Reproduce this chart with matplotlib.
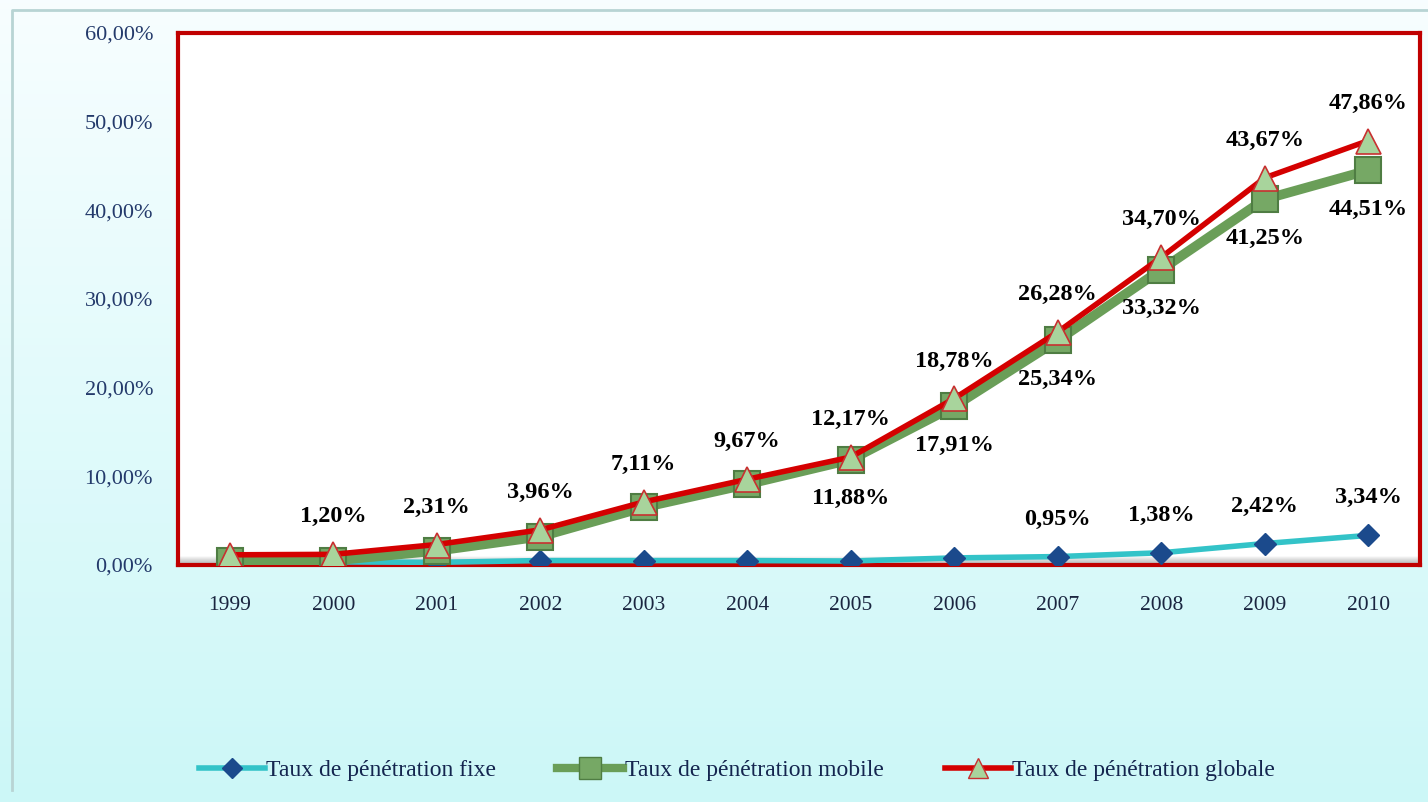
import numpy as np
import matplotlib
matplotlib.use("Agg")
import matplotlib.pyplot as plt
from matplotlib.lines import Line2D

years = ["1999", "2000", "2001", "2002", "2003", "2004", "2005", "2006", "2007", "2008", "2009", "2010"]
fixe = [0.35, 0.35, 0.3, 0.5, 0.5, 0.5, 0.45, 0.8, 0.95, 1.38, 2.42, 3.34]
mobile = [0.4, 0.5, 1.6, 3.2, 6.5, 9.1, 11.88, 17.91, 25.34, 33.32, 41.25, 44.51]
globale = [1.15, 1.20, 2.31, 3.96, 7.11, 9.67, 12.17, 18.78, 26.28, 34.70, 43.67, 47.86]
yticks = [0, 10, 20, 30, 40, 50, 60]
series_names = ["Taux de pénétration fixe", "Taux de pénétration mobile", "Taux de pénétration globale"]

# which labels are shown
fixe_lab = [False]*8 + [True]*4
mobile_lab = [False]*6 + [True]*6
global_lab = [False] + [True]*11

def fmt(v):
    return f"{v:.2f}".replace(".", ",") + "%"

W, H = 1428, 802
fig = plt.figure(figsize=(W/100, H/100), dpi=100)

# background gradient
bg = fig.add_axes([0, 0, 1, 1], zorder=-5)
grad = np.linspace(0, 1, 256)[:, None]
top = np.array([0.97, 0.995, 1.0])
bot = np.array([0.80, 0.97, 0.97])
img = top[None, None, :] * (1 - grad[..., None]) + bot[None, None, :] * grad[..., None]
img = np.repeat(img, 2, axis=1)
bg.imshow(img, aspect="auto", extent=[0, 1, 0, 1])
bg.set_xlim(0, 1); bg.set_ylim(0, 1)
bg.plot([12/W, 12/W, 1], [1 - 790/H, 1 - 10/H, 1 - 10/H], color="#b8d4d4", lw=2)
bg.axis("off")

l, r, t, b = 178, 1420, 33, 565
ax = fig.add_axes([l/W, 1 - b/H, (r - l)/W, (b - t)/H])
ax.set_facecolor("white")
x = np.arange(len(years))

ax.plot(x, fixe, color="#33c3c8", lw=4, marker="D", ms=11, mfc="#1b4a8c", mec="#1b4a8c", zorder=3,
        label=series_names[0])
ax.plot(x, mobile, color="#6a9e58", lw=7, marker="s", ms=19, mfc="#76a865", mec="#4f7d43", mew=1.5, zorder=4,
        label=series_names[1])
ax.plot(x, globale, color="#d40000", lw=4, marker="^", ms=18, mfc="#a8d49c", mec="#c83030", mew=1.2, zorder=5,
        label=series_names[2])

lab_font = dict(family=["Liberation Serif", "DejaVu Serif"], fontweight="bold", fontsize=17.5, color="black")
for i in range(len(years)):
    if global_lab[i]:
        ax.annotate(fmt(globale[i]), (x[i], globale[i]), xytext=(0, 27), textcoords="offset points",
                    ha="center", va="center", zorder=6, **lab_font)
    if mobile_lab[i]:
        ax.annotate(fmt(mobile[i]), (x[i], mobile[i]), xytext=(0, -28), textcoords="offset points",
                    ha="center", va="center", zorder=6, **lab_font)
    if fixe_lab[i]:
        ax.annotate(fmt(fixe[i]), (x[i], fixe[i]), xytext=(0, 27), textcoords="offset points",
                    ha="center", va="center", zorder=6, **lab_font)

ax.set_xlim(-0.5, 11.5)
ax.set_ylim(0, 60)
ax.set_yticks(yticks)
ax.set_yticklabels([f"{v},00%" for v in yticks])
ax.set_xticks(x)
ax.set_xticklabels(years)
ax.tick_params(axis="both", length=0)
ax.tick_params(axis="y", pad=18, labelsize=16, labelcolor="#243a6b")
ax.tick_params(axis="x", pad=22, labelsize=15.5, labelcolor="#1a2540")
for lab in ax.get_yticklabels() + ax.get_xticklabels():
    lab.set_family(["Liberation Serif", "DejaVu Serif"])
for s in ax.spines.values():
    s.set_color("#c00000")
    s.set_linewidth(3)

# soft shadow at bottom of plot area
for k, a in enumerate(np.linspace(0.35, 0.0, 8)):
    ax.axhline(0.18 + k * 0.12, color=(0.5, 0.5, 0.5, a), lw=1.2, zorder=1)

handles = [
    Line2D([], [], color="#33c3c8", lw=4, marker="D", ms=10, mfc="#1b4a8c", mec="#1b4a8c"),
    Line2D([], [], color="#6a9e58", lw=6, marker="s", ms=16, mfc="#76a865", mec="#4f7d43"),
    Line2D([], [], color="#d40000", lw=4, marker="^", ms=15, mfc="#a8d49c", mec="#c83030"),
]
leg = fig.legend(handles, series_names, loc="center", bbox_to_anchor=(0.516, 1 - 770/H), ncol=3,
                 frameon=False, handlelength=2.8, handletextpad=0.05, columnspacing=2.6,
                 prop={"family": ["Liberation Serif", "DejaVu Serif"], "size": 17})
for tx in leg.get_texts():
    tx.set_color("#14254f")

fig.savefig("out.png", dpi=100)
